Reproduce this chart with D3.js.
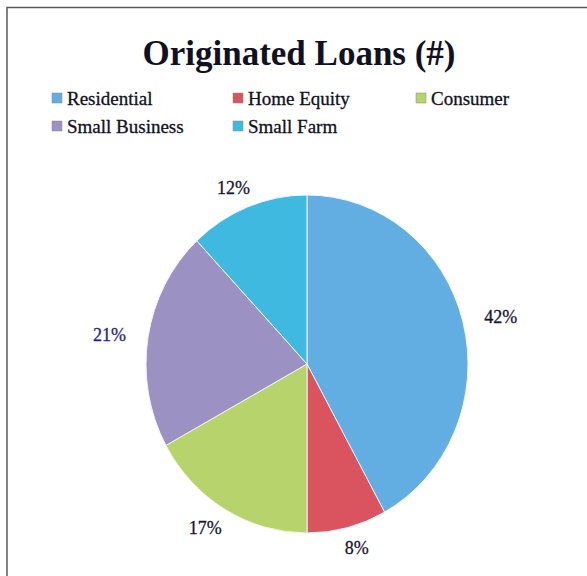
<!DOCTYPE html>
<html><head><meta charset="utf-8">
<script src="https://cdn.jsdelivr.net/npm/d3@7"></script>
<style>html,body{margin:0;padding:0;background:#fff;}</style>
</head><body>
<script>
const categories = ["Residential", "Home Equity", "Consumer", "Small Business", "Small Farm"];
const values = [42, 8, 17, 21, 12];
const labels = ["42%", "8%", "17%", "21%", "12%"];
const title = "Originated Loans (#)";

const colors = ["#62ade2", "#d9545f", "#b7d36c", "#9c91c3", "#3fb9df"];
const labelColors = ["#161630", "#161630", "#161630", "#1f2a78", "#161630"];

const W = 587, H = 576;
const svg = d3.select("body").append("svg").attr("width", W).attr("height", H);
svg.append("rect").attr("width", W).attr("height", H).attr("fill", "#fff");

// frame
svg.append("path").attr("d", `M7,${H} L7,7.5 L${W},7.5`).attr("fill", "none")
  .attr("stroke", "#5a5a5a").attr("stroke-width", 1.5);

// title
svg.append("text").attr("x", 299).attr("y", 65).attr("text-anchor", "middle")
  .attr("font-family", "Liberation Serif, 'Times New Roman', serif")
  .attr("font-weight", "bold").attr("font-size", 35).attr("fill", "#111122").text(title);

// legend
const legPos = [[52, 0], [233, 0], [416, 0], [52, 1], [233, 1]];
const rowY = [98, 126];
const leg = svg.append("g");
categories.forEach((c, i) => {
  const [x, r] = legPos[i];
  const y = rowY[r];
  leg.append("rect").attr("x", x).attr("y", y - 5).attr("width", 10).attr("height", 10)
    .attr("fill", colors[i]).attr("stroke", "#888").attr("stroke-width", 0.5);
  leg.append("text").attr("x", x + 15).attr("y", y).attr("dy", "0.35em")
    .attr("font-family", "Liberation Serif, 'Times New Roman', serif")
    .attr("font-size", 19).attr("fill", "#111122")
    .attr("stroke", "#111122").attr("stroke-width", 0.3).text(c);
});

// pie
const cx = 307, cy = 364, rx = 161, ry = 169;
const pie = d3.pie().sort(null).value(d => d)(values);
const arc = d3.arc().innerRadius(0).outerRadius(ry);
const g = svg.append("g").attr("transform", `translate(${cx},${cy}) scale(${rx / ry},1)`);
g.selectAll("path").data(pie).join("path")
  .attr("d", arc).attr("fill", (d, i) => colors[i])
  .attr("stroke", "#f4f4f4").attr("stroke-width", 1);

// labels (elliptical placement)
const lrx = 200, lry = 190;
svg.append("g").selectAll("text").data(pie).join("text")
  .attr("x", d => cx + lrx * Math.sin((d.startAngle + d.endAngle) / 2))
  .attr("y", d => cy - lry * Math.cos((d.startAngle + d.endAngle) / 2))
  .attr("dy", "0.35em").attr("text-anchor", "middle")
  .attr("font-family", "Liberation Serif, 'Times New Roman', serif")
  .attr("font-size", 18).attr("fill", (d, i) => labelColors[i])
  .attr("stroke", (d, i) => labelColors[i]).attr("stroke-width", 0.3)
  .text((d, i) => labels[i]);
</script>
</body></html>
